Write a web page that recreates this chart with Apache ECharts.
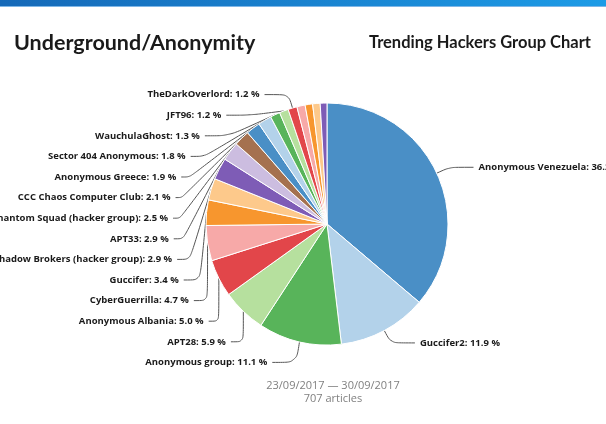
<!DOCTYPE html>
<html>
<head>
<meta charset="utf-8">
<script src="https://cdn.jsdelivr.net/npm/echarts@6/dist/echarts.min.js"></script>
<style>
  html, body { margin: 0; padding: 0; background: #fff; }
  #chart { width: 606px; height: 424px; }
</style>
</head>
<body>
<div id="chart"></div>
<script>
// groups, clockwise from 12 o'clock
var groupNames = ['Anonymous Venezuela', 'Guccifer2', 'Anonymous group', 'APT28', 'Anonymous Albania',
  'CyberGuerrilla', 'Guccifer', 'Shadow Brokers (hacker group)', 'APT33', 'Phantom Squad (hacker group)',
  'CCC Chaos Computer Club', 'Anonymous Greece', 'Sector 404 Anonymous', 'WauchulaGhost', 'JFT96',
  'TheDarkOverlord', 'Other 1', 'Other 2', 'Other 3', 'Other 4'];
// share of articles, %
var groupShares = [36.2, 11.9, 11.1, 5.9, 5.0, 4.7, 3.4, 2.9, 2.9, 2.5, 2.1, 1.9, 1.8, 1.3, 1.2, 1.2, 1.1, 1.0, 1.0, 0.9];
// the smallest slices have no label in the original
var labelled = [1, 1, 1, 1, 1, 1, 1, 1, 1, 1, 1, 1, 1, 1, 1, 1, 0, 0, 0, 0];

var palette = ['#4a8fc6', '#b3d2ea', '#58b45a', '#b6e09e', '#e2464a', '#f7a9a8',
  '#f7962e', '#fdc98b', '#7e5cb6', '#ccbde0', '#a5714f'];

var pieData = groupNames.map(function (n, i) {
  var item = { name: n, value: groupShares[i] };
  if (!labelled[i]) {
    item.label = { show: false };
    item.labelLine = { show: false };
  }
  return item;
});

var myChart = echarts.init(document.getElementById('chart'));
myChart.setOption({
  animation: false,
  color: palette,
  graphic: [
    { type: 'rect', left: 0, top: 0, shape: { width: 606, height: 6 },
      style: { fill: new echarts.graphic.LinearGradient(0, 0, 1, 0, [
        { offset: 0, color: '#1569b8' }, { offset: 1, color: '#1d9be6' }]) } },
    { type: 'rect', left: 0, top: 6, shape: { width: 606, height: 1 }, style: { fill: '#7fb6e6' } }
  ],
  title: [
    { text: 'Underground/Anonymity', left: 9, top: 27,
      textStyle: { fontFamily: 'Lato', fontWeight: 'bold', fontSize: 21.5, color: '#1a1a1a' } },
    { text: 'Trending Hackers Group Chart', right: 10, top: 29,
      textStyle: { fontFamily: 'Lato', fontWeight: 'bold', fontSize: 16.5, color: '#1a1a1a' } },
    { text: '23/09/2017 \u2014 30/09/2017\n707 articles', left: 328, top: 374, textAlign: 'center',
      textStyle: { fontFamily: 'Open Sans', fontWeight: 'normal', fontSize: 11, lineHeight: 13, color: '#808080' } }
  ],
  series: [{
    type: 'pie',
    center: [327, 224],
    radius: [0, 121],
    startAngle: 90,
    clockwise: true,
    itemStyle: { borderColor: '#fff', borderWidth: 1 },
    label: {
      formatter: function (p) { return p.name + ': ' + p.value.toFixed(1) + ' %'; },
      fontFamily: 'Open Sans',
      fontWeight: 'bold',
      fontSize: 9.5,
      lineHeight: 18.6,
      color: '#1a1a1a',
      overflow: 'none'
    },
    labelLine: {
      length: 14,
      length2: 24,
      smooth: 0.3,
      lineStyle: { color: '#555', width: 1 }
    },
    data: pieData
  }]
});
</script>
</body>
</html>
